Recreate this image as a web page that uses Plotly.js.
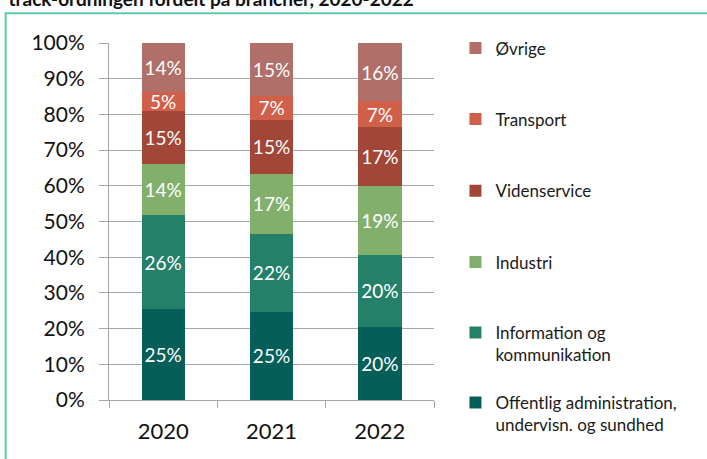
<!DOCTYPE html>
<html>
<head>
<meta charset="utf-8">
<script src="https://cdn.plot.ly/plotly-3.0.1.min.js"></script>
<style>html,body{margin:0;padding:0;background:#fff;}#chart{width:707px;height:459px;}</style>
</head>
<body>
<div id="chart"></div>
<script>
const years = ['2020', '2021', '2022'];
const seriesNames = ['Offentlig administration,<br>undervisn. og sundhed', 'Information og<br>kommunikation', 'Industri', 'Videnservice', 'Transport', 'Øvrige'];
const offentlig = [25.4, 24.7, 20.5];
const information = [26.3, 21.8, 20.1];
const industri = [14.3, 16.9, 19.3];
const videnservice = [14.9, 15.1, 16.5];
const transport = [5.3, 6.6, 7.3];
const ovrige = [13.8, 14.9, 16.3];
const offentligLabels = ['25%', '25%', '20%'];
const informationLabels = ['26%', '22%', '20%'];
const industriLabels = ['14%', '17%', '19%'];
const videnserviceLabels = ['15%', '15%', '17%'];
const transportLabels = ['5%', '7%', '7%'];
const ovrigeLabels = ['14%', '15%', '16%'];
const colors = ['#065E58', '#25806A', '#82B06C', '#A24637', '#D1604A', '#B06F69'];

const values = [offentlig, information, industri, videnservice, transport, ovrige];
const labels = [offentligLabels, informationLabels, industriLabels, videnserviceLabels, transportLabels, ovrigeLabels];
// legend top positions (paper), bottom item first to match trace order
const legendY = [0.042, 0.238, 0.436, 0.635, 0.836, 1.035];
const legendIds = ['legend', 'legend2', 'legend3', 'legend4', 'legend5', 'legend6'];

const FONT = 'Lato, "Open Sans", sans-serif';

const traces = values.map((v, i) => ({
  type: 'bar',
  name: seriesNames[i],
  x: years,
  y: v,
  text: labels[i],
  texttemplate: '%{text}',
  textposition: 'inside',
  insidetextanchor: 'middle',
  textangle: 0,
  constraintext: 'none',
  insidetextfont: {color: '#FFFFFF', size: 19, family: FONT},
  marker: {color: colors[i], line: {width: 0}},
  legend: legendIds[i],
  hoverinfo: 'skip'
}));

const legendBase = {
  xref: 'paper', yref: 'paper', x: 1.066, xanchor: 'left', yanchor: 'top',
  bgcolor: 'rgba(0,0,0,0)', borderwidth: 0, valign: 'top',
  font: {family: FONT, size: 17, color: '#1a1a1a'},
  itemwidth: 30
};
const layout = {
  width: 707, height: 459,
  margin: {l: 109, r: 273, t: 42.5, b: 59},
  paper_bgcolor: '#FFFFFF', plot_bgcolor: '#FFFFFF',
  barmode: 'stack', bargap: 0.6,
  showlegend: true,
  title: {
    text: '<b>track-ordningen fordelt på brancher, 2020-2022</b>',
    font: {family: FONT, size: 19, color: '#111'},
    x: 0.012, xanchor: 'left', xref: 'container',
    y: 0.986, yanchor: 'bottom', yref: 'container'
  },
  xaxis: {
    type: 'category',
    showline: true, linecolor: '#A6A6A6', linewidth: 1,
    ticks: 'outside', tickson: 'boundaries', ticklen: 7, tickcolor: '#A6A6A6',
    ticklabelstandoff: 12,
    tickfont: {family: FONT, size: 22, color: '#111'},
    showgrid: false, fixedrange: true
  },
  yaxis: {
    range: [0, 100], dtick: 10, ticksuffix: '%',
    showline: true, linecolor: '#A6A6A6', linewidth: 1,
    ticks: 'outside', ticklen: 9, tickcolor: '#A6A6A6',
    ticklabelstandoff: 10,
    showgrid: true, gridcolor: '#A6A6A6', gridwidth: 1,
    zeroline: false,
    tickfont: {family: FONT, size: 21, color: '#111'},
    fixedrange: true
  },
  shapes: [{
    type: 'rect', xref: 'paper', yref: 'paper',
    x0: -0.318, x1: 1.848, y0: -0.22, y1: 1.083,
    line: {color: '#5CC9AC', width: 2}, fillcolor: 'rgba(0,0,0,0)'
  }]
};
legendIds.forEach((id, i) => {
  layout[id] = Object.assign({}, legendBase, {y: legendY[i]});
});

Plotly.newPlot('chart', traces, layout, {displayModeBar: false, staticPlot: true});
</script>
</body>
</html>
